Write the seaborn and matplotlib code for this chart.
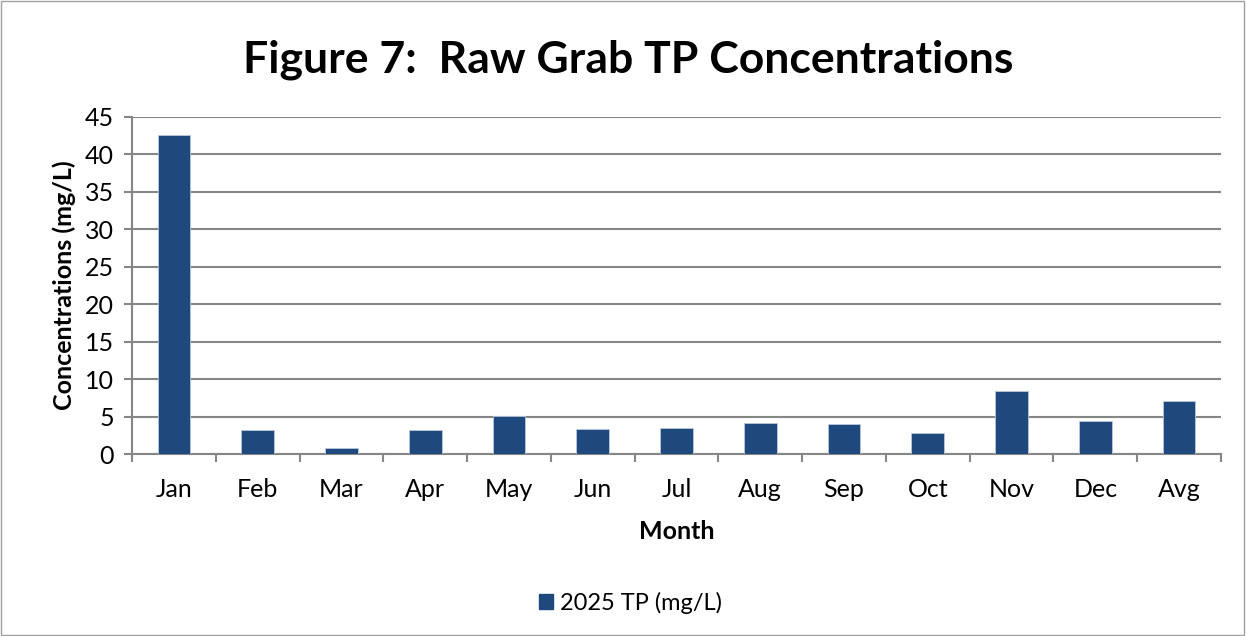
import pandas as pd
import matplotlib.pyplot as plt
import seaborn as sns
from matplotlib.patches import Rectangle, Patch

# Values
months = ["Jan", "Feb", "Mar", "Apr", "May", "Jun", "Jul", "Aug", "Sep", "Oct", "Nov", "Dec", "Avg"]
tp_2025 = [42.6, 3.2, 0.8, 3.2, 5.05, 3.4, 3.5, 4.2, 4.05, 2.75, 8.4, 4.4, 7.1]
y_ticks = [0, 5, 10, 15, 20, 25, 30, 35, 40, 45]

df = pd.DataFrame({"Month": months, "TP": tp_2025})

sns.set_theme(style="white")
plt.rcParams["font.family"] = ["Lato", "DejaVu Sans"]
plt.rcParams["text.color"] = "black"
plt.rcParams["axes.labelcolor"] = "black"

bar_color = "#1F497D"
grid_color = "#868686"

fig = plt.figure(figsize=(12.46, 6.36), dpi=100)
ax = fig.add_axes([132 / 1246, 1 - 454 / 636, (1221 - 132) / 1246, (454 - 117) / 636])

sns.barplot(data=df, x="Month", y="TP", color=bar_color, width=0.39,
            edgecolor="#B9C9DE", linewidth=0.6, saturation=1, ax=ax, zorder=3)

ax.set_ylim(0, 45)
ax.set_xlim(-0.5, len(months) - 0.5)
ax.set_yticks(y_ticks)
ax.yaxis.grid(True, color=grid_color, linewidth=1.5, zorder=0)
ax.set_axisbelow(True)

# category boundaries carry the x tick marks
ax.set_xticks([i - 0.5 for i in range(len(months) + 1)], minor=True)
ax.tick_params(axis="x", which="major", length=0, pad=17, labelsize=18, colors="black")
ax.tick_params(axis="x", which="minor", length=6, width=1.5, color=grid_color, direction="out", bottom=True)
ax.tick_params(axis="y", length=6, width=1.5, color=grid_color, direction="out", left=True,
               labelsize=18, labelcolor="black", pad=7)

for side in ["top", "right"]:
    ax.spines[side].set_visible(False)
for side in ["left", "bottom"]:
    ax.spines[side].set_color(grid_color)
    ax.spines[side].set_linewidth(1.5)

ax.set_xlabel("Month", fontsize=18, fontweight="bold", labelpad=14)
ax.set_ylabel("Concentrations (mg/L)", fontsize=18, fontweight="bold", labelpad=6)

fig.text(0.504, 1 - 60 / 636, "Figure 7:  Raw Grab TP Concentrations", ha="center", va="center",
         fontsize=32, fontweight="bold", color="black")

handle = Patch(facecolor=bar_color, edgecolor=bar_color)
fig.legend([handle], ["2025 TP (mg/L)"], loc="center", bbox_to_anchor=(0.506, 1 - 603 / 636),
           frameon=False, fontsize=17, handlelength=0.6, handleheight=0.6, handletextpad=0.3)

fig.patches.append(Rectangle((0.001, 0.002), 0.997, 0.996, transform=fig.transFigure,
                             fill=False, edgecolor="#A0A0A0", linewidth=1))

fig.savefig("out.png", dpi=100, facecolor="white")
